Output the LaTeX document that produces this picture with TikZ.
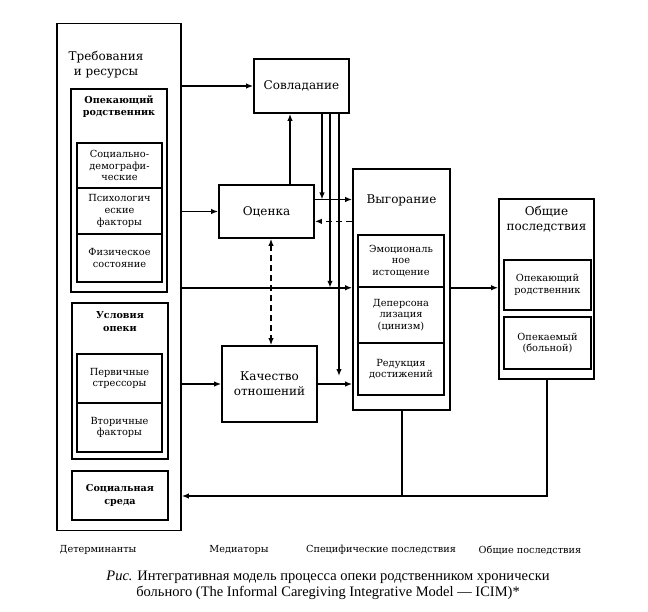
\documentclass[tikz,border=0pt]{standalone}
\usepackage{fontspec}
\setmainfont{DejaVu Serif}
\newfontfamily\capfont{Liberation Serif}
\usetikzlibrary{positioning,calc,arrows.meta}
\tikzset{
	ltip/.tip={Latex[length=7pt,width=5.5pt]},
	box/.style={draw,line width=1.7pt,inner sep=1pt,align=center},
	inbox/.style={box,line width=1.5pt,font=\fontsize{9.8}{11.6}\selectfont},
	bigtxt/.style={align=center,font=\fontsize{12}{15}\selectfont},
	boldtxt/.style={align=center,font=\fontsize{9.6}{12.8}\bfseries},
	arr/.style={line width=1.5pt,-ltip},
	dsh/.style={arr,dash pattern=on 6pt off 4pt},
	lab/.style={font=\fontsize{9.7}{11}\selectfont}
}

\begin{document}
\begin{tikzpicture}[x=1pt,y=-1pt]
	\useasboundingbox (0,0) rectangle (648,611);
	
	%Determinanty
	\node[box,minimum width=124,minimum height=507] (det) at (119,277) {};
	\node[bigtxt] (treb) at (106,65) {Требования\\и ресурсы};
	
	\node[box,minimum width=96,minimum height=203] (opek) at (119,190.5) {};
	\node[boldtxt] (opekT) at (119,106.5) {Опекающий\\родственник};
	\node[inbox,minimum width=85,minimum height=45] (sd) at (119.5,165.5) {Социально-\\демографи-\\ческие};
	\node[inbox,minimum width=85,minimum height=46] (ps) at (119.5,211) {Психологич\\еские\\факторы};
	\node[inbox,minimum width=85,minimum height=48] (fiz) at (119.5,258) {Физическое\\состояние};
	
	\node[box,minimum width=96,minimum height=156] (usl) at (120,381) {};
	\node[boldtxt] (uslT) at (120,321.5) {Условия\\опеки};
	\node[inbox,minimum width=85,minimum height=49] (pst) at (119.5,378.5) {Первичные\\стрессоры};
	\node[inbox,minimum width=85,minimum height=49] (vtf) at (119.5,427.5) {Вторичные\\факторы};
	
	\node[box,minimum width=96,minimum height=49,boldtxt] (soc) at (120,495.5) {Социальная\\среда};
	
	%Mediatory
	\node[box,bigtxt,minimum width=95,minimum height=54] (sov) at (301.5,86) {Совладание};
	\node[box,bigtxt,minimum width=95,minimum height=53] (oc) at (266.5,211.5) {Оценка};
	\node[box,bigtxt,minimum width=95,minimum height=76] (kach) at (269.5,384) {Качество\\отношений};
	
	%Vygoranie
	\node[box,minimum width=97,minimum height=241] (vyg) at (401.5,289.5) {};
	\node[bigtxt] (vygT) at (401.5,200) {Выгорание};
	\node[inbox,minimum width=86,minimum height=52] (emo) at (401,261) {Эмоциональ\\ное\\истощение};
	\node[inbox,minimum width=86,minimum height=56] (dep) at (401,315) {Деперсона\\лизация\\(цинизм)};
	\node[inbox,minimum width=86,minimum height=52] (red) at (401,369) {Редукция\\достижений};
	
	%Obshchie posledstviya
	\node[box,minimum width=95,minimum height=180] (obsh) at (546.5,289) {};
	\node[bigtxt] (obshT) at (546.5,219.5) {Общие\\последствия};
	\node[inbox,minimum width=87,minimum height=50] (rod) at (547.5,285) {Опекающий\\родственник};
	\node[inbox,minimum width=87,minimum height=52] (bol) at (547.5,343) {Опекаемый\\(больной)};
	
	%Strelki
	\draw[arr] (det.east |- sov.west) -- (sov.west);
	\draw[arr] (det.east |- oc.west) -- (oc.west);
	\draw[arr] (det.east |- emo.south) -- (vyg.west |- emo.south);
	\draw[arr] (det.east |- kach.west) -- (kach.west);
	\draw[arr] (kach.east) -- (vyg.west |- kach.east);
	\draw[arr] (vyg.east |- emo.south) -- (obsh.west |- emo.south);
	
	\coordinate (ocA) at ($(oc.north east)!0.28!(oc.south east)$);
	\coordinate (ocB) at ($(oc.north east)!0.68!(oc.south east)$);
	\draw[arr] (ocA) -- (vyg.west |- ocA);
	\draw[dsh] (vyg.west |- ocB) -- (ocB);
	
	\coordinate (o1) at ([xshift=23.5pt]oc.north);
	\draw[arr] (o1) -- (o1 |- sov.south);
	\coordinate (o2) at ([xshift=4.5pt]oc.south);
	\draw[dsh,ltip-ltip,line width=1.8pt] (o2) -- (o2 |- kach.north);
	
	\coordinate (s1) at ([xshift=20.5pt]sov.south);
	\coordinate (s2) at ([xshift=28.5pt]sov.south);
	\coordinate (s3) at ([xshift=37.5pt]sov.south);
	\draw[arr] (s1) -- (s1 |- ocA);
	\draw[arr] (s2) -- (s2 |- emo.south);
	\draw[arr] (s3) -- ([yshift=8pt]s3 |- kach.east);
	
	%Obratnaya svyaz
	\coordinate (fb) at ([yshift=-0.5pt]soc.east);
	\coordinate (ob) at ([xshift=0.5pt]obsh.south);
	\coordinate (vb) at ([xshift=0.5pt]vyg.south);
	\draw[arr] (ob) |- (det.east |- fb);
	\draw[line width=1.5pt] (vb) -- (vb |- fb);
	
	%Podpisi
	\node[lab] (l1) at (98,550) {Детерминанты};
	\node[lab] (l2) at (239,550) {Медиаторы};
	\node[lab] (l3) at (381,550) {Специфические последствия};
	\node[lab] (l4) at (530,550) {Общие последствия};
	\node[align=center,font=\capfont\fontsize{14.5}{16}\selectfont] (cap) at (328,585) {\textit{Рис.} Интегративная модель процесса опеки родственником хронически\\больного (The Informal Caregiving Integrative Model — ICIM)*};
\end{tikzpicture}
\end{document}
